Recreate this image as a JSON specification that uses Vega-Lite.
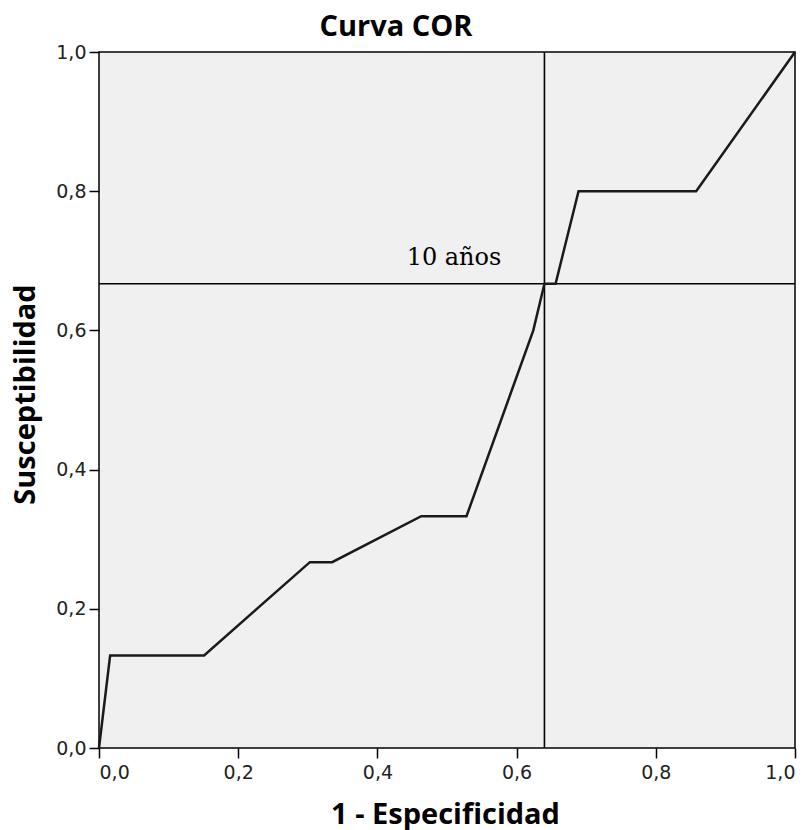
{
  "$schema": "https://vega.github.io/schema/vega-lite/v6.json",
  "width": 696,
  "height": 696,
  "autosize": {"type": "none"},
  "padding": {"left": 99, "top": 52, "right": 16, "bottom": 82},
  "background": "white",
  "title": {
    "text": "Curva COR",
    "font": "Open Sans",
    "fontSize": 29,
    "fontWeight": "bold",
    "color": "black",
    "anchor": "middle",
    "frame": "group",
    "dx": -51,
    "offset": 1
  },
  "config": {
    "view": {"fill": "#f0f0f0", "stroke": "black", "strokeWidth": 1.5},
    "axis": {
      "grid": false,
      "domain": false,
      "tickColor": "black",
      "tickWidth": 1.5,
      "tickSize": 10,
      "labelFont": "DejaVu Sans",
      "labelFontSize": 19,
      "labelColor": "#222",
      "titleFont": "Open Sans",
      "titleFontWeight": "bold",
      "titleFontSize": 29,
      "titleColor": "black"
    }
  },
  "datasets": {
    "roc": [
      {"fpr": 0.0, "tpr": 0.0},
      {"fpr": 0.016, "tpr": 0.133},
      {"fpr": 0.151, "tpr": 0.133},
      {"fpr": 0.303, "tpr": 0.267},
      {"fpr": 0.335, "tpr": 0.267},
      {"fpr": 0.463, "tpr": 0.333},
      {"fpr": 0.528, "tpr": 0.333},
      {"fpr": 0.624, "tpr": 0.6},
      {"fpr": 0.64, "tpr": 0.667},
      {"fpr": 0.656, "tpr": 0.667},
      {"fpr": 0.689, "tpr": 0.8},
      {"fpr": 0.858, "tpr": 0.8},
      {"fpr": 1.0, "tpr": 1.0}
    ],
    "cut": [{"fpr": 0.64, "tpr": 0.667}],
    "note": [{"fpr": 0.442, "tpr": 0.694, "label": "10 años"}]
  },
  "layer": [
    {
      "data": {"name": "cut"},
      "mark": {"type": "rule", "color": "black", "strokeWidth": 1.6},
      "encoding": {"x": {"field": "fpr", "type": "quantitative"}}
    },
    {
      "data": {"name": "cut"},
      "mark": {"type": "rule", "color": "black", "strokeWidth": 1.6},
      "encoding": {"y": {"field": "tpr", "type": "quantitative"}}
    },
    {
      "data": {"name": "roc"},
      "mark": {"type": "line", "color": "#1a1a1a", "strokeWidth": 2.5},
      "encoding": {
        "x": {
          "field": "fpr",
          "type": "quantitative",
          "scale": {"domain": [0, 1], "nice": false},
          "axis": {
            "values": [0, 0.2, 0.4, 0.6, 0.8, 1],
            "labelExpr": "replace(format(datum.value, '.1f'), '.', ',')",
            "labelPadding": 5,
            "title": "1 - Especificidad",
            "titleX": 346,
            "titleY": 75,
            "titleBaseline": "alphabetic",
            "titleAnchor": null
          }
        },
        "y": {
          "field": "tpr",
          "type": "quantitative",
          "scale": {"domain": [0, 1], "nice": false},
          "axis": {
            "values": [0, 0.2, 0.4, 0.6, 0.8, 1],
            "labelExpr": "replace(format(datum.value, '.1f'), '.', ',')",
            "labelPadding": 3,
            "title": "Susceptibilidad",
            "titleX": -74,
            "titleY": 342,
            "titleAngle": -90,
            "titleAlign": "center",
            "titleBaseline": "middle"
          }
        }
      }
    },
    {
      "data": {"name": "note"},
      "mark": {"type": "text", "font": "DejaVu Serif", "fontSize": 24, "align": "left", "baseline": "alphabetic", "color": "black"},
      "encoding": {
        "x": {"field": "fpr", "type": "quantitative"},
        "y": {"field": "tpr", "type": "quantitative"},
        "text": {"field": "label"}
      }
    }
  ]
}
